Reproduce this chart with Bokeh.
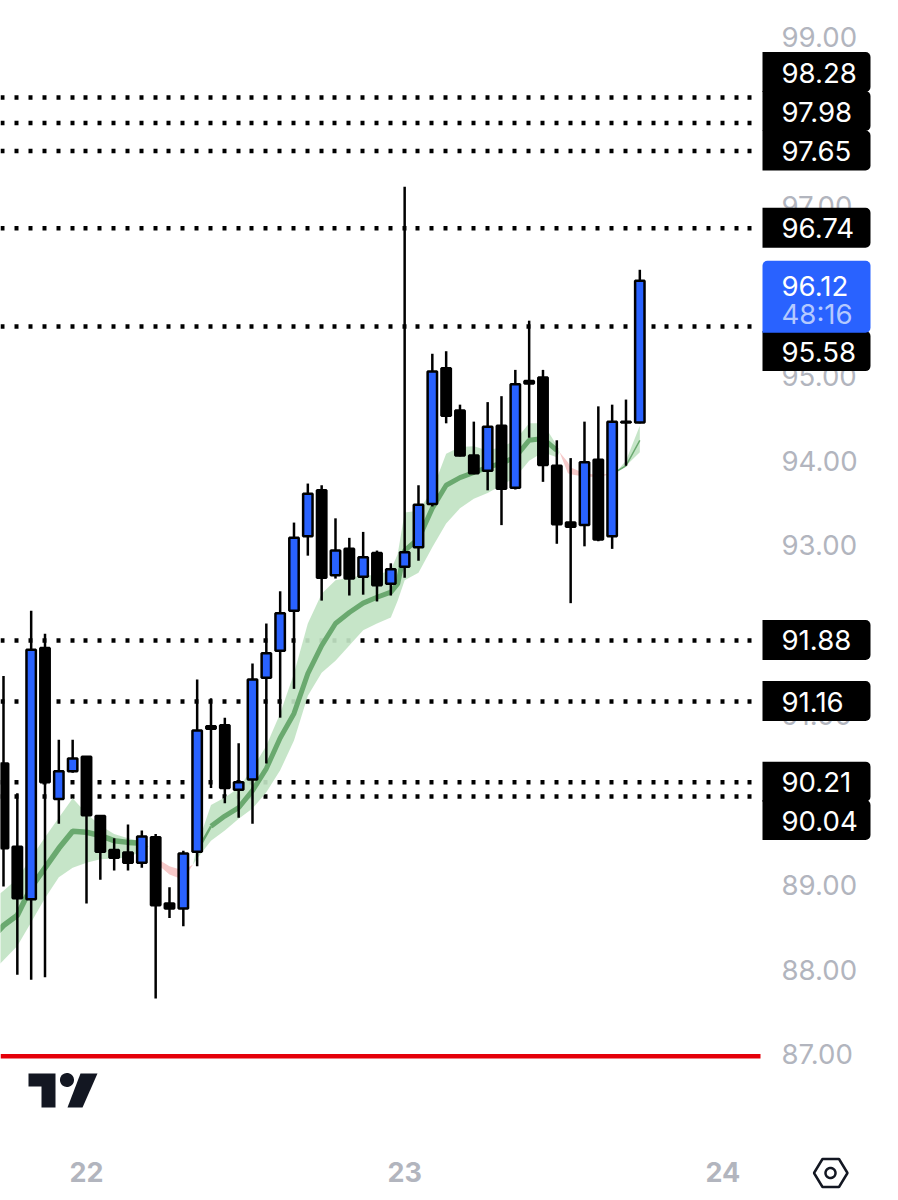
import numpy as np
from bokeh.plotting import figure
from bokeh.embed import file_html
from bokeh.resources import INLINE
from bokeh.models import (FixedTicker, Range1d, BoxAnnotation, Label, PolyAnnotation,
                          PrintfTickFormatter)

# ---------- data (prices) ----------
day_ticks = [0, 23, 46]
day_labels = ["22", "23", "24"]
price_ticks = [87, 88, 89, 90, 91, 92, 93, 94, 95, 96, 97, 98, 99]

bar_index = list(range(-6, 41))
opens = [90.43, 89.45, 88.83, 91.79, 90.01, 90.34, 90.51, 89.81, 89.41, 89.38, 89.26, 89.56, 88.78, 88.72,
         89.39, 90.87, 90.88, 90.12, 90.24, 91.44, 91.76, 92.23, 93.11, 93.65, 92.65, 92.96, 92.63, 92.91,
         92.55, 92.75, 92.98, 93.49, 95.09, 94.59, 94.06, 93.88, 94.41, 93.68, 94.94, 94.98, 93.94, 93.27,
         93.24, 94.01, 93.11, 94.46, 94.45]
highs = [91.46, 90.08, 92.23, 91.96, 90.71, 90.71, 90.51, 89.81, 89.55, 89.71, 89.64, 89.60, 88.97, 89.40,
         91.42, 91.20, 90.97, 90.67, 91.61, 92.08, 92.46, 93.27, 93.73, 93.71, 93.32, 93.09, 93.16, 92.94,
         92.79, 97.23, 93.71, 95.26, 95.29, 94.66, 94.46, 94.69, 94.76, 95.07, 95.65, 95.07, 94.24, 94.03,
         94.46, 94.64, 94.66, 94.72, 96.25]
lows = [88.98, 87.94, 87.88, 87.91, 89.72, 90.32, 88.78, 89.06, 89.17, 89.17, 89.20, 87.66, 88.61, 88.51,
        89.22, 90.14, 89.96, 89.79, 89.72, 90.43, 90.97, 91.31, 92.88, 92.35, 92.61, 92.41, 92.42, 92.34,
        92.41, 92.62, 92.82, 93.46, 94.44, 94.05, 93.84, 93.65, 93.24, 93.66, 94.27, 93.75, 93.02, 92.32,
        92.99, 93.05, 92.96, 93.94, 94.44]
closes = [89.43, 88.84, 91.77, 90.21, 90.34, 90.49, 89.82, 89.39, 89.32, 89.26, 89.57, 88.76, 88.72, 89.37,
          90.82, 90.84, 90.14, 90.21, 91.42, 91.73, 92.20, 93.09, 93.61, 92.62, 92.94, 92.61, 92.86, 92.53,
          92.72, 92.92, 93.48, 95.05, 94.53, 94.06, 93.85, 94.40, 93.67, 94.90, 94.91, 93.95, 93.25, 93.22,
          93.98, 93.07, 94.46, 94.45, 96.12]

green_a_x = [-7, -6, -5, -4, -3, -2, -1, 0, 1, 2, 3, 4, 4.5]
green_a_up = [88.80, 88.93, 89.07, 89.32, 89.56, 89.79, 90.02, 89.84, 89.70, 89.60, 89.55, 89.51, 89.45]
green_a_mid = [88.35, 88.52, 88.64, 88.97, 89.20, 89.43, 89.63, 89.62, 89.58, 89.52, 89.50, 89.49, 89.45]
green_a_lo = [87.95, 88.11, 88.28, 88.56, 88.84, 89.09, 89.20, 89.26, 89.30, 89.31, 89.32, 89.40, 89.45]

red_a_x = [4.5, 5, 6, 7, 7.7]
red_a_up = [89.45, 89.32, 89.22, 89.17, 89.24]
red_a_lo = [89.45, 89.26, 89.12, 89.06, 89.24]

green_b_x = [7.7, 8, 9, 10, 11, 12, 13, 14, 15, 16, 17, 18, 19, 20, 21, 22, 22.5, 23, 24, 25, 26, 27, 28, 29,
             30, 31, 32, 33, 34, 34.2]
green_b_up = [89.24, 89.46, 89.94, 90.03, 90.14, 90.37, 90.64, 91.02, 91.49, 92.08, 92.43, 92.59, 92.62, 92.65,
              92.65, 92.71, 92.90, 93.39, 93.41, 93.65, 94.08, 94.16, 94.17, 94.12, 94.16, 94.24, 94.44, 94.44,
              94.18, 94.10]
green_b_mid = [89.24, 89.40, 89.69, 89.81, 89.91, 90.11, 90.37, 90.73, 91.02, 91.49, 91.82, 92.08, 92.21, 92.32,
               92.39, 92.45, 92.55, 92.94, 93.08, 93.44, 93.71, 93.80, 93.86, 93.92, 93.97, 94.04, 94.24, 94.26,
               94.12, 94.10]
green_b_lo = [89.24, 89.31, 89.52, 89.64, 89.78, 89.90, 90.09, 90.35, 90.70, 91.23, 91.50, 91.64, 91.82, 92.00,
              92.08, 92.15, 92.35, 92.59, 92.68, 92.98, 93.26, 93.44, 93.55, 93.62, 93.71, 93.80, 94.00, 94.10,
              94.04, 94.10]

red_b_x = [34.2, 34.8, 35, 36, 37, 38, 38.3]
red_b_up = [94.10, 93.98, 93.92, 93.85, 93.83, 93.85, 93.87]
red_b_lo = [94.10, 93.85, 93.84, 93.81, 93.81, 93.84, 93.87]

green_c_x = [38.3, 39, 40]
green_c_up = [93.87, 94.00, 94.41]
green_c_mid = [93.87, 93.94, 94.24]
green_c_lo = [93.87, 93.94, 94.10]

level_prices = [98.28, 97.98, 97.65, 96.74, 95.58, 91.88, 91.16, 90.21, 90.04]
red_level = 86.98
last_price = "96.12"
countdown = "48:16"

# ---------- layout constants ----------
W, H = 898, 1200
PX_PER_UNIT = 84.83
PX_PER_BAR = 13.833
PLOT_R = 760
x0 = -86 / PX_PER_BAR
x_end = x0 + PLOT_R / PX_PER_BAR
y1 = 99 + 36 / PX_PER_UNIT
FONT_PX = "27.6px"

p = figure(frame_width=W, frame_height=H, output_backend="svg", toolbar_location=None,
           x_range=Range1d(x0, x0 + W / PX_PER_BAR),
           y_range=Range1d(y1 - H / PX_PER_UNIT, y1),
           y_axis_location="right", tools="")
p.min_border_left = 0
p.min_border_top = 0
p.min_border_right = 0
p.min_border_bottom = 0
p.outline_line_color = None
p.background_fill_color = "white"
p.border_fill_color = "white"
p.grid.visible = False

GREY = "#b2b5be"
ya = p.yaxis[0]
ya.ticker = FixedTicker(ticks=price_ticks)
ya.formatter = PrintfTickFormatter(format="%.2f")
ya.axis_line_color = None
ya.major_tick_line_color = None
ya.minor_tick_line_color = None
ya.major_tick_out = 0
ya.major_tick_in = 0
ya.minor_tick_out = 0
ya.major_label_standoff = -117
ya.major_label_text_color = GREY
ya.major_label_text_font = "Inter"
ya.major_label_text_font_size = FONT_PX

xa = p.xaxis[0]
xa.ticker = FixedTicker(ticks=day_ticks)
xa.major_label_overrides = dict(zip(day_ticks, day_labels))
xa.axis_line_color = None
xa.major_tick_line_color = None
xa.minor_tick_line_color = None
xa.major_tick_out = 0
xa.major_tick_in = 0
xa.minor_tick_out = 0
xa.major_label_standoff = -39
xa.major_label_text_color = GREY
xa.major_label_text_font = "Inter"
xa.major_label_text_font_style = "bold"
xa.major_label_text_font_size = "27px"

# dotted price levels
n_lv = len(level_prices)
p.segment([x0] * n_lv, level_prices, [x_end] * n_lv, level_prices, line_color="#000000", line_width=4.5,
          line_dash="4 10 4 10 4 10 4 10 4 10 4 9", line_dash_offset=0)

# red level
p.segment([x0], [red_level], [x_end], [red_level], line_color="#e5000a", line_width=4.5)

# bands
BAND_G = "#c1e3c3"
BAND_R = "#f6c9c9"
p.varea(green_a_x, green_a_up, green_a_lo, fill_color=BAND_G, fill_alpha=0.92)
p.varea(green_b_x, green_b_up, green_b_lo, fill_color=BAND_G, fill_alpha=0.92)
p.varea(green_c_x, green_c_up, green_c_lo, fill_color=BAND_G, fill_alpha=0.92)
p.varea(red_a_x, red_a_up, red_a_lo, fill_color=BAND_R)
p.varea(red_b_x, red_b_up, red_b_lo, fill_color=BAND_R)
LINE_G = "#6aa96f"
p.line(green_a_x[:-1], green_a_mid[:-1], line_color=LINE_G, line_width=5.5)
p.line(green_b_x[1:3], green_b_mid[1:3], line_color=LINE_G, line_width=2.5)
p.line(green_b_x[2:-1], green_b_mid[2:-1], line_color=LINE_G, line_width=5)
p.line(green_c_x, green_c_mid, line_color=LINE_G, line_width=1.5)

# candles
idx = np.array(bar_index, dtype=float)
o, h, l, c = map(np.array, (opens, highs, lows, closes))
p.segment(idx, h, idx, l, line_color="#000000", line_width=2.5)
up = c >= o
BLUE = "#2962ff"
p.vbar(idx[~up], width=0.68, top=o[~up], bottom=c[~up], fill_color="#000000", line_color="#000000", line_width=2.5)
p.vbar(idx[up], width=0.68, top=c[up], bottom=o[up], fill_color=BLUE, line_color="#000000", line_width=2.5)

# price tags
tag_offset = [25, 11.5, 0, 0, -25, 0, 0, 0, -24]
TAG_L, TAG_R, TEXT_X = 762, 870, 781
for lv, off in zip(level_prices, tag_offset):
    centre = lv + off / PX_PER_UNIT
    p.add_layout(BoxAnnotation(left=TAG_L, right=TAG_R, left_units="canvas", right_units="canvas",
                               top=centre + 20.5 / PX_PER_UNIT, bottom=centre - 19.5 / PX_PER_UNIT,
                               fill_color="#000000", fill_alpha=1, line_color=None,
                               border_radius=(0, 5, 5, 0)))
    p.add_layout(Label(x=TEXT_X, x_units="canvas", y=centre, text=f"{lv:.2f}", text_color="#ffffff",
                       text_font="Inter", text_font_size=FONT_PX, text_baseline="middle", text_align="left"))

last = float(last_price)
p.add_layout(BoxAnnotation(left=TAG_L, right=TAG_R, left_units="canvas", right_units="canvas",
                           top=last + 20 / PX_PER_UNIT, bottom=last - 52 / PX_PER_UNIT,
                           fill_color=BLUE, fill_alpha=1, line_color=None, border_radius=(5, 5, 5, 0)))
p.add_layout(Label(x=TEXT_X, x_units="canvas", y=last - 5 / PX_PER_UNIT, text=last_price, text_color="#ffffff",
                   text_font="Inter", text_font_size=FONT_PX, text_baseline="middle"))
p.add_layout(Label(x=TEXT_X, x_units="canvas", y=last - 33 / PX_PER_UNIT, text=countdown, text_color="#b4c9ff",
                   text_font="Inter", text_font_size=FONT_PX, text_baseline="middle"))

# logo
def poly(xs, ys, **kw):
    p.add_layout(PolyAnnotation(xs=list(xs), ys=list(ys), xs_units="canvas", ys_units="canvas", **kw))

DARK = "#131722"
poly([28, 55, 55, 41, 41, 28], [1073, 1073, 1107, 1107, 1086, 1086], fill_color=DARK, fill_alpha=1, line_color=None)
poly([80, 97, 82, 67], [1073, 1073, 1107, 1107], fill_color=DARK, fill_alpha=1, line_color=None)
t = np.linspace(0, 2 * np.pi, 40)[:-1]
poly(66.5 + 7 * np.cos(t), 1079.5 + 7 * np.sin(t), fill_color=DARK, fill_alpha=1, line_color=None)

# settings icon
poly([813.5, 822, 838.5, 847, 838.5, 822], [1172.5, 1158.5, 1158.5, 1172.5, 1186.5, 1186.5],
     fill_alpha=0, line_color=DARK, line_alpha=1, line_width=2.5)
poly(830 + 5 * np.cos(t), 1172.5 + 5 * np.sin(t), fill_alpha=0, line_color=DARK, line_alpha=1, line_width=2.5)

open("out.html", "w").write(file_html(p, INLINE))
